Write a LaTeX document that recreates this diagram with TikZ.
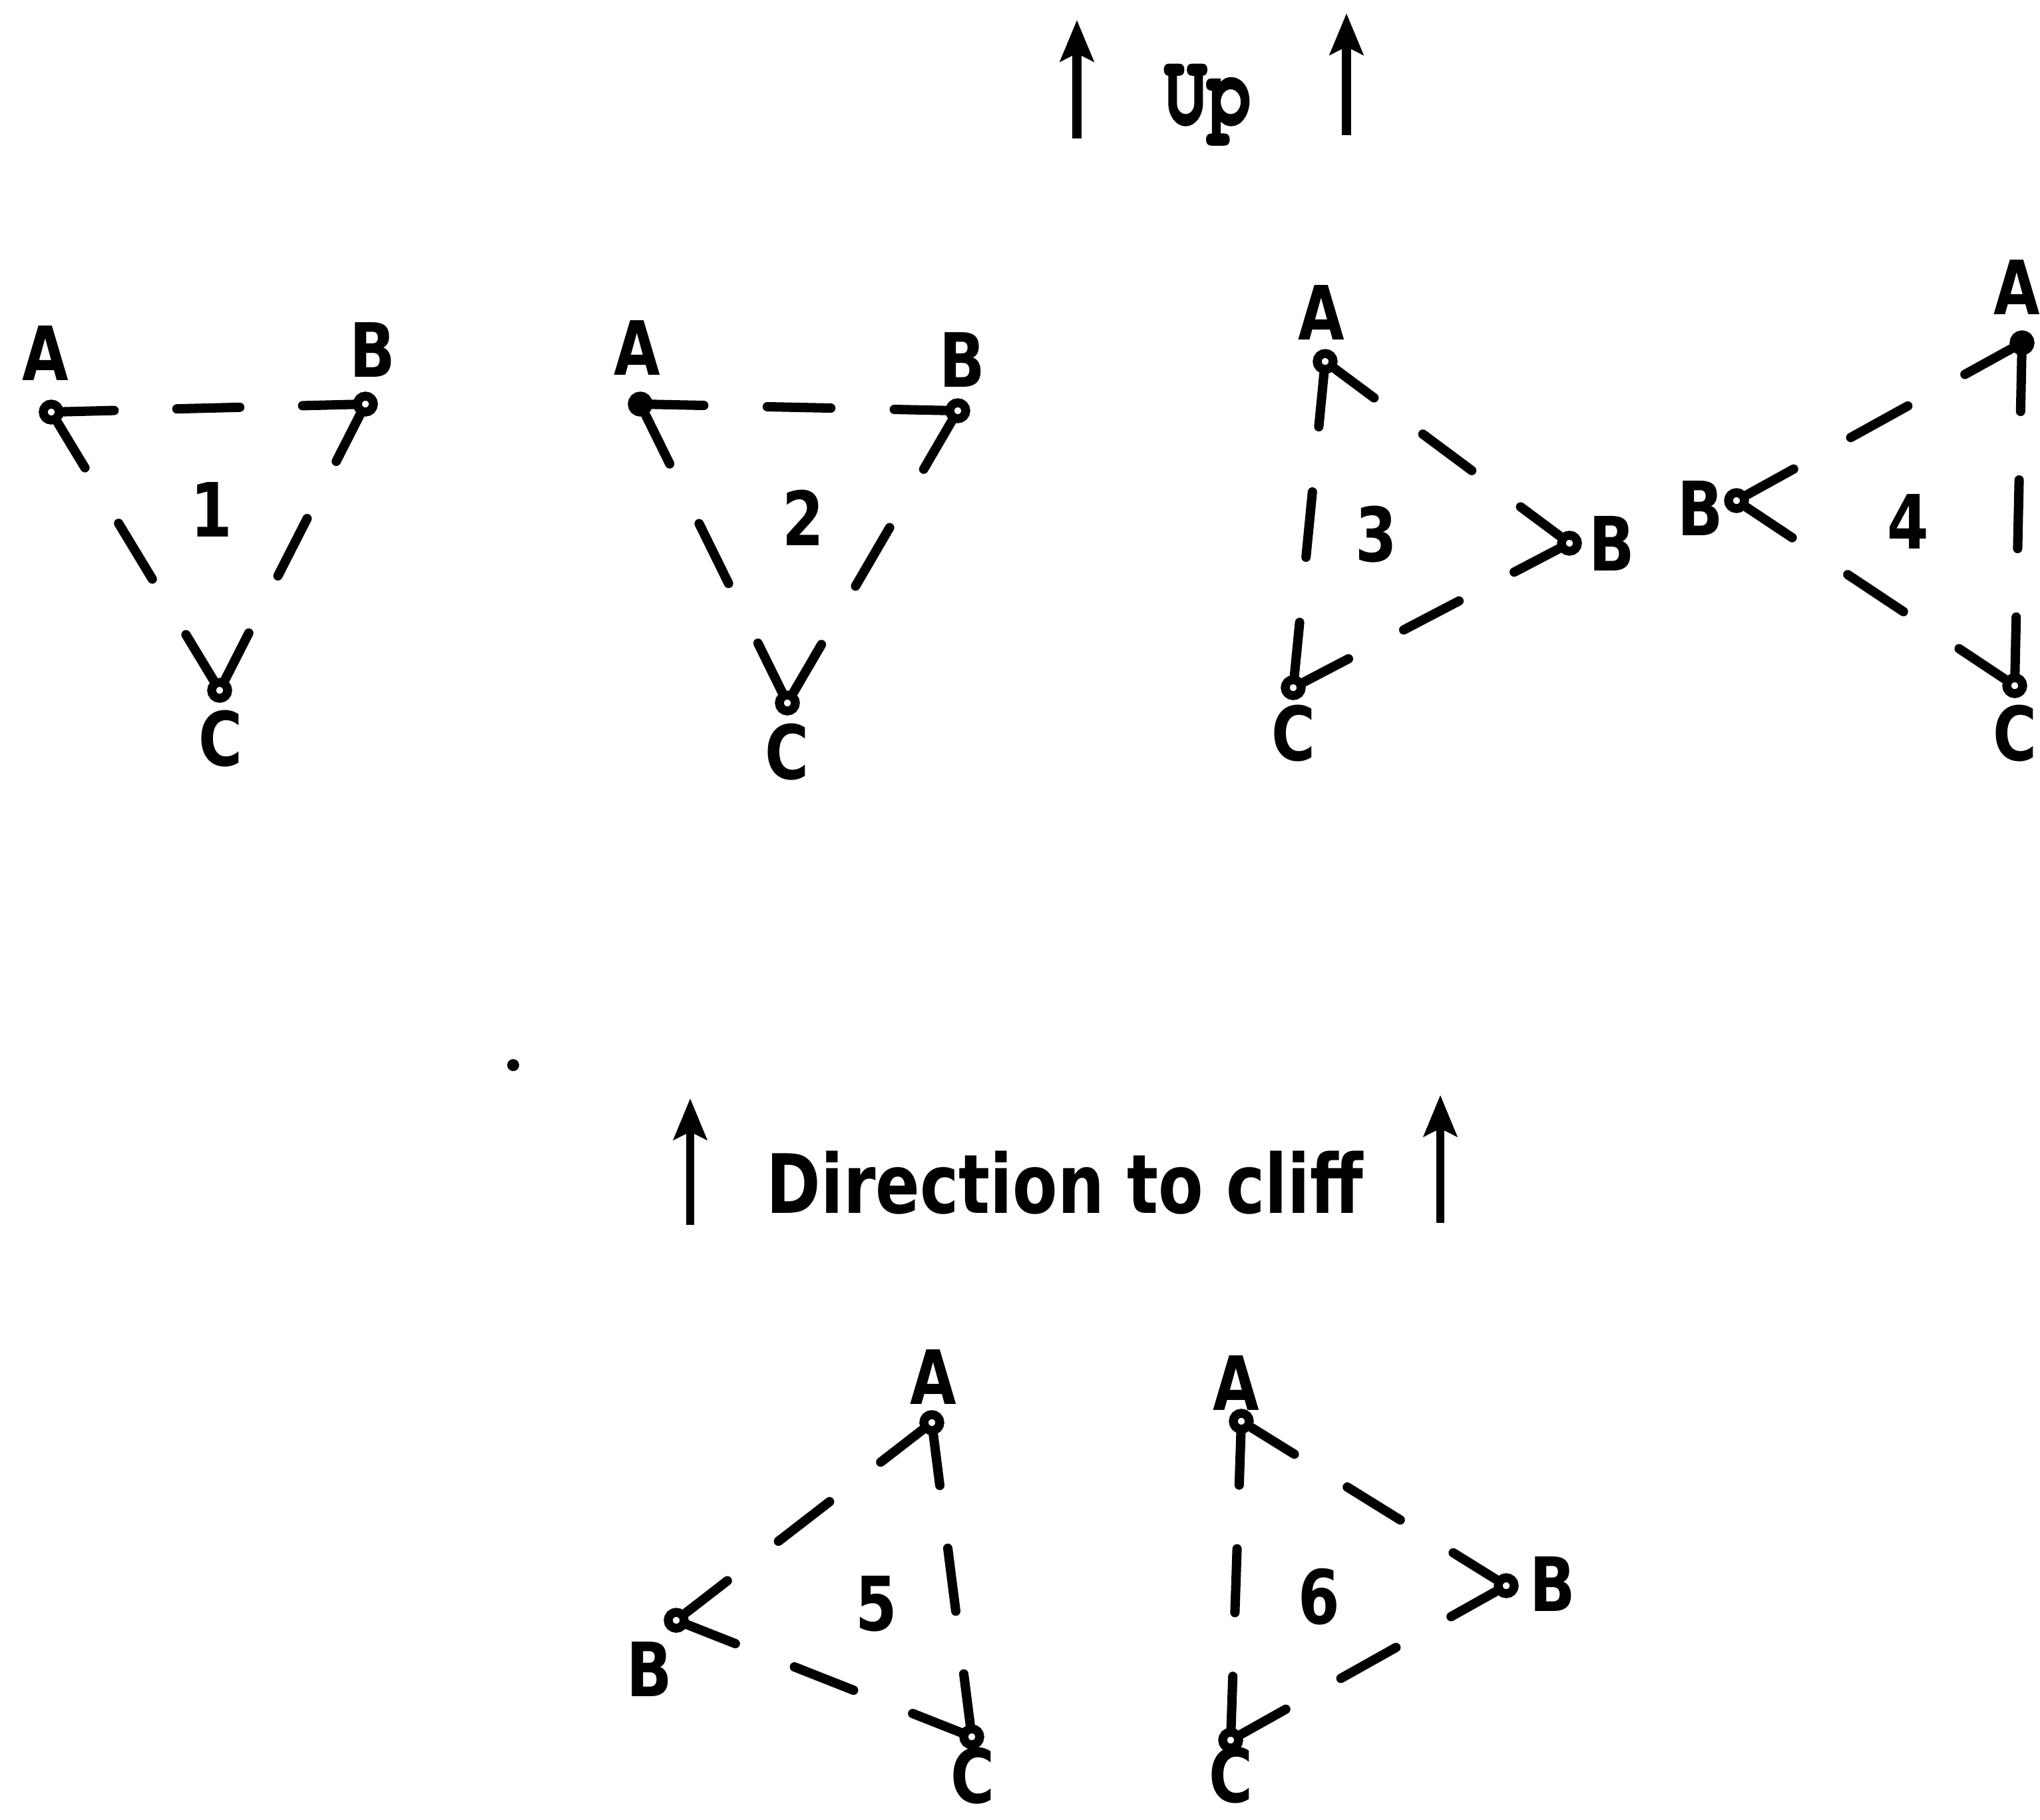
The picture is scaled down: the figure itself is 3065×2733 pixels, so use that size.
\documentclass[tikz,border=0pt]{standalone}
\usepackage{fontspec}
\usepackage{graphicx}
\setmainfont{DejaVu Sans}[FakeStretch=0.8]
\newfontfamily\typefont{texgyrecursor-bold.otf}[FakeBold=2]
\usetikzlibrary{arrows.meta, calc, positioning}
\tikzset{
	pivot/.style   ={circle, draw=black, line width=3.8pt, fill=white, minimum size=2.4mm, inner sep=0pt},
	pivotdot/.style={pivot, fill=black},
	arm/.style     ={line width=4pt, line cap=round},
	lbl/.style     ={font=\bfseries\fontsize{32}{32}\selectfont, inner sep=0pt},
	upward/.style  ={-{Stealth[length=6.2mm, width=5mm, inset=1.2mm]}, line width=4.2pt},
}

\begin{document}
\begin{tikzpicture}[x=0.1mm, y=-0.1mm]
	\useasboundingbox (0,0) rectangle (3065,2733);
	% heading arrows
	\coordinate (ub1) at (1618,208); \coordinate (ut1) at (1618,30);
	\coordinate (ub2) at (2023,203); \coordinate (ut2) at (2023,20);
	\draw[upward] (ub1) -- (ut1);
	\draw[upward] (ub2) -- (ut2);
	\node[font=\typefont\fontsize{31}{31}\selectfont, inner sep=0pt, anchor=base] (up) at (1814,186) {\scalebox{1}[1.4]{Up}};
	% triangle 1
	\node[pivot] (a1) at (77,619) {};
	\node[pivot] (b1) at (549,607) {};
	\node[pivot] (c1) at (330,1037) {};
	\node[lbl] (la1) at (68,530) {A};
	\node[lbl] (lb1) at (560,525) {B};
	\node[lbl] (lc1) at (332,1110) {C};
	\node[lbl] (n1) at (318,765) {1};
	% triangle 2
	\node[pivotdot] (a2) at (962,607) {};
	\node[pivot] (b2) at (1439,617) {};
	\node[pivot] (c2) at (1183,1056) {};
	\node[lbl] (la2) at (957,522) {A};
	\node[lbl] (lb2) at (1446,540) {B};
	\node[lbl] (lc2) at (1183,1130) {C};
	\node[lbl] (n2) at (1207,778) {2};
	% triangle 3
	\node[pivot] (a3) at (1991,543) {};
	\node[pivot] (b3) at (2358,816) {};
	\node[pivot] (c3) at (1943,1033) {};
	\node[lbl] (la3) at (1985,469) {A};
	\node[lbl] (lb3) at (2422,816) {B};
	\node[lbl] (lc3) at (1943,1102) {C};
	\node[lbl] (n3) at (2068,803) {3};
	% triangle 4
	\node[pivotdot] (a4) at (3038,515) {};
	\node[pivot] (b4) at (2609,752) {};
	\node[pivot] (c4) at (3027,1030) {};
	\node[lbl] (la4) at (3030,431) {A};
	\node[lbl] (lb4) at (2555,763) {B};
	\node[lbl] (lc4) at (3027,1102) {C};
	\node[lbl] (n4) at (2867,783) {4};
	% cliff heading
	\fill (771,1600) circle (9);
	\coordinate (db1) at (1037,1840); \coordinate (dt1) at (1037,1650);
	\coordinate (db2) at (2164,1837); \coordinate (dt2) at (2164,1645);
	\draw[upward, line width=3.2pt] (db1) -- (dt1);
	\draw[upward, line width=3.2pt] (db2) -- (dt2);
	\node[font=\bfseries\fontsize{35}{35}\selectfont, anchor=base, inner sep=0pt] (dir) at (1600,1822) {Direction to cliff};
	% triangle 5
	\node[pivot] (a5) at (1400,2137) {};
	\node[pivot] (b5) at (1016,2434) {};
	\node[pivot] (c5) at (1460,2609) {};
	\node[lbl] (la5) at (1402,2068) {A};
	\node[lbl] (lb5) at (976,2507) {B};
	\node[lbl] (lc5) at (1462,2668) {C};
	\node[lbl] (n5) at (1317,2409) {5};
	% triangle 6
	\node[pivot] (a6) at (1865,2135) {};
	\node[pivot] (b6) at (2263,2382) {};
	\node[pivot] (c6) at (1849,2614) {};
	\node[lbl] (la6) at (1857,2077) {A};
	\node[lbl] (lb6) at (2333,2379) {B};
	\node[lbl] (lc6) at (1849,2667) {C};
	\node[lbl] (n6) at (1982,2399) {6};
	% broken sides: arm, middle dash, arm
	\foreach \u/\v in {a1/b1, b1/c1, c1/a1, a2/b2, b2/c2, c2/a2, a3/b3, b3/c3, c3/a3,
			a4/b4, b4/c4, c4/a4, a5/b5, b5/c5, c5/a5, a6/b6, b6/c6, c6/a6} {
		\draw[arm] (\u) -- ($(\u)!0.2!(\v)$);
		\draw[arm] ($(\u)!0.4!(\v)$) -- ($(\u)!0.6!(\v)$);
		\draw[arm] ($(\u)!0.8!(\v)$) -- (\v);
	}
\end{tikzpicture}
\end{document}
